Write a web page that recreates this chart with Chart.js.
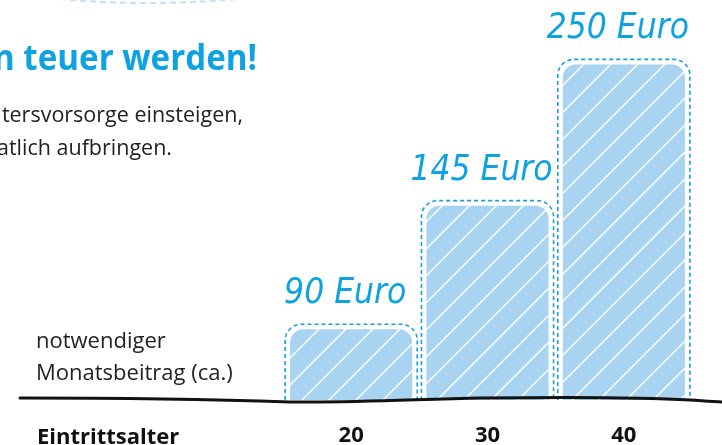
<!DOCTYPE html>
<html>
<head>
<meta charset="utf-8">
<script src="https://cdn.jsdelivr.net/npm/chart.js@4.4.1/dist/chart.umd.min.js"></script>
<style>
  html, body { margin: 0; padding: 0; background: #ffffff; }
  #wrap { width: 722px; height: 445px; position: relative; overflow: hidden; }
  canvas { display: block; }
</style>
</head>
<body>
<div id="wrap"><canvas id="c" width="722" height="445"></canvas></div>
<script>
// ---- data ----
const entryAges = ['20', '30', '40'];          // Eintrittsalter (category tick labels)
const monthlyContribution = [90, 145, 250];    // notwendiger Monatsbeitrag (ca.) in Euro
const valueUnit = 'Euro';
const titleText = 'n teuer werden!';
const bodyLines = ['tersvorsorge einsteigen,', 'atlich aufbringen.'];
const seriesLabelLines = ['notwendiger', 'Monatsbeitrag (ca.)'];
const axisLabel = 'Eintrittsalter';

// ---- styles ----
const BLUE = '#0ea2e0';
const FILL = '#a8d4f2';
const DASH = '#1a9fdc';
const SANS = '"Open Sans", "Noto Sans", sans-serif';

function makeHatch() {
  const S = 27;
  const c = document.createElement('canvas');
  c.width = S; c.height = S;
  const g = c.getContext('2d');
  g.fillStyle = FILL;
  g.fillRect(0, 0, S, S);
  g.strokeStyle = 'rgba(255,255,255,0.95)';
  g.lineWidth = 1.5;
  g.beginPath();
  for (let k = -1; k <= 1; k++) {
    g.moveTo(k * S - 2, S + 2);
    g.lineTo(k * S + S + 2, -2);
  }
  g.stroke();
  return g.createPattern(c, 'repeat');
}

const decorPlugin = {
  id: 'decor',
  beforeDraw(chart) {
    const ctx = chart.ctx;
    ctx.save();
    ctx.fillStyle = '#ffffff';
    ctx.fillRect(0, 0, chart.width, chart.height);

    // faint dashed arc of a cropped bubble at the very top
    ctx.strokeStyle = '#c4e3f7';
    ctx.lineWidth = 2.2;
    ctx.setLineDash([6, 4]);
    ctx.beginPath();
    ctx.moveTo(60, -1);
    ctx.quadraticCurveTo(148, 7, 237, -1);
    ctx.stroke();
    ctx.setLineDash([]);

    // headline (cropped at left), slightly condensed
    ctx.save();
    ctx.translate(257, 70);
    ctx.scale(0.92, 1);
    ctx.fillStyle = BLUE;
    ctx.font = 'bold 36px ' + SANS;
    ctx.textAlign = 'right';
    ctx.textBaseline = 'alphabetic';
    ctx.fillText(titleText, 0, 0);
    ctx.restore();

    // body text (cropped at left)
    ctx.fillStyle = '#222222';
    ctx.textAlign = 'right';
    ctx.textBaseline = 'alphabetic';
    ctx.font = '21.5px ' + SANS;
    ctx.fillText(bodyLines[0], 243, 122);
    ctx.fillText(bodyLines[1], 172, 155);

    // series label
    ctx.textAlign = 'left';
    ctx.font = '22px ' + SANS;
    ctx.fillText(seriesLabelLines[0], 36, 348);
    ctx.fillText(seriesLabelLines[1], 36, 380);

    // axis label
    ctx.fillStyle = '#111111';
    ctx.font = 'bold 22px ' + SANS;
    ctx.fillText(axisLabel, 37, 444);
    ctx.restore();
  },
  afterDatasetsDraw(chart) {
    const ctx = chart.ctx;
    const meta = chart.getDatasetMeta(0);
    const ds = chart.data.datasets[0];
    ctx.save();
    meta.data.forEach((bar, i) => {
      const p = bar.getProps(['x', 'y', 'base', 'width'], true);
      const l = p.x - p.width / 2 - 3, r = p.x + p.width / 2 + 3;
      const t = p.y - 3, b = p.base, rad = 16;
      ctx.strokeStyle = DASH;
      ctx.lineWidth = 1.6;
      ctx.setLineDash([4, 3]);
      ctx.beginPath();
      ctx.moveTo(l, b);
      ctx.lineTo(l, t + rad);
      ctx.arcTo(l, t, l + rad, t, rad);
      ctx.lineTo(r - rad, t);
      ctx.arcTo(r, t, r, t + rad, rad);
      ctx.lineTo(r, b);
      ctx.stroke();
      ctx.setLineDash([]);

      // value label
      ctx.fillStyle = BLUE;
      ctx.font = 'italic 35px "Liberation Sans Narrow", "DejaVu Sans Condensed", sans-serif';
      ctx.textAlign = 'center';
      ctx.textBaseline = 'alphabetic';
      ctx.fillText(ds.data[i] + ' ' + valueUnit, p.x - 6, t - 21);
    });

    // hand-drawn baseline
    const y0 = chart.chartArea.bottom;
    ctx.strokeStyle = '#111111';
    ctx.lineWidth = 3;
    ctx.lineCap = 'round';
    ctx.beginPath();
    ctx.moveTo(20, y0 - 2);
    ctx.bezierCurveTo(120, y0 - 2, 200, y0 - 1, 290, y0 + 2);
    ctx.bezierCurveTo(360, y0 + 3, 420, y0 - 1, 480, y0 - 2);
    ctx.bezierCurveTo(560, y0 - 3, 640, y0 - 3, 690, y0);
    ctx.bezierCurveTo(705, y0 + 1, 715, y0 + 2, 724, y0 + 2);
    ctx.stroke();
    ctx.restore();
  }
};

new Chart(document.getElementById('c'), {
  type: 'bar',
  data: {
    labels: entryAges,
    datasets: [{
      data: monthlyContribution,
      backgroundColor: makeHatch(),
      borderColor: '#ffffff',
      borderWidth: 2,
      borderSkipped: 'bottom',
      borderRadius: { topLeft: 15, topRight: 15, bottomLeft: 0, bottomRight: 0 },
      categoryPercentage: 1,
      barPercentage: 0.925
    }]
  },
  options: {
    responsive: false,
    animation: false,
    devicePixelRatio: 1,
    layout: { padding: { left: 283, right: 30, top: 10, bottom: 0 } },
    plugins: { legend: { display: false }, tooltip: { enabled: false } },
    scales: {
      x: {
        grid: { display: false, drawTicks: false },
        border: { display: false },
        afterFit(scale) { scale.height = 45; },
        ticks: {
          color: '#111111',
          font: { family: SANS, size: 22, weight: 'bold' },
          padding: 23
        }
      },
      y: {
        type: 'logarithmic',
        min: 68,
        max: 306,
        display: false
      }
    }
  },
  plugins: [decorPlugin]
});
</script>
</body>
</html>
